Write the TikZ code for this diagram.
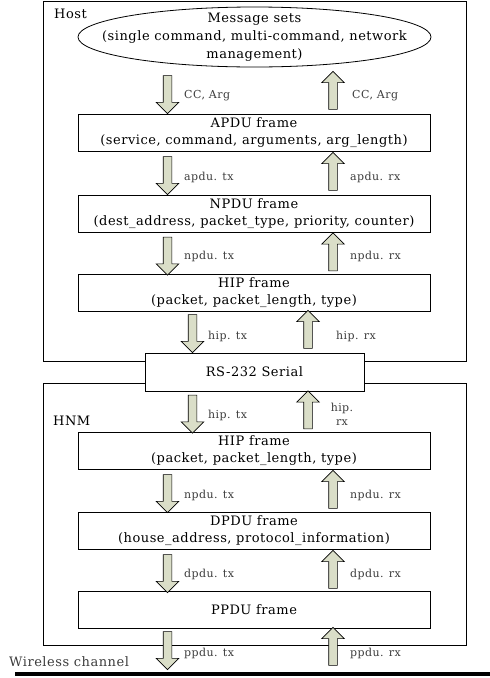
\documentclass[tikz,border=0pt]{standalone}
\usepackage{fontspec}
\setmainfont[LetterSpace=4]{DejaVu Serif}
\usetikzlibrary{shapes.arrows}
\definecolor{arrowfill}{RGB}{218,222,200}
\definecolor{labelgray}{RGB}{60,60,60}

\begin{document}
\begin{tikzpicture}[x=1pt, y=-1pt, every node/.style={font=\fontsize{13}{17}\selectfont}]
        \tikzstyle{container}=[draw, line width=0.8pt, anchor=north west, inner sep=0pt]
        \tikzstyle{frame}=[draw, fill=white, line width=0.8pt, minimum width=352pt, minimum height=37pt, inner sep=0pt, align=center]
        \tikzstyle{down}=[draw, single arrow, shape border rotate=270, fill=arrowfill, line width=0.6pt, inner sep=4pt, minimum height=38pt, single arrow head extend=7pt, single arrow tip angle=90]
        \tikzstyle{up}=[down, shape border rotate=90]
        \tikzstyle{label}=[anchor=west, inner sep=0pt, text=labelgray, font=\fontsize{11}{14}\selectfont]
        \useasboundingbox (0,0) rectangle (490,678);

        % host side
        \node [style=container, minimum width=423pt, minimum height=360pt] (host) at (43,1) {};
        \node [anchor=west, inner sep=0pt] (hostname) at (54,14) {Host};
        \node [inner sep=0pt, align=center, font=\fontsize{13}{18}\selectfont] (msg) at (254.5,37) {Message sets\\(single command, multi-command, network\\management)};
        \draw [line width=0.8pt] (msg.center) ellipse [x radius=176.5pt, y radius=30pt];
        \node [style=frame] (apdu) at (254,132.5) {APDU frame\\(service, command, arguments, arg\_length)};
        \node [style=frame] (npdu) at (254,214) {NPDU frame\\(dest\_address, packet\_type, priority, counter)};
        \node [style=frame] (hip) at (254,293) {HIP frame\\(packet, packet\_length, type)};

        % HNM side
        \node [style=container, minimum width=423pt, minimum height=262pt] (hnm) at (43,383) {};
        \node [anchor=west, inner sep=0pt] (hnmname) at (53,421) {HNM};
        \node [style=frame, minimum width=219pt, minimum height=38pt] (rs) at (254.5,372) {RS-232 Serial};
        \node [style=frame] (hipb) at (254,451) {HIP frame\\(packet, packet\_length, type)};
        \node [style=frame] (dpdu) at (254,531) {DPDU frame\\(house\_address, protocol\_information)};
        \node [style=frame] (ppdu) at (254,610) {PPDU frame};

        % channel
        \node [anchor=west, inner sep=0pt, text=labelgray] (chan) at (9,662) {Wireless channel};
        \coordinate (chanL) at (15,674);
        \coordinate (chanR) at (490,674);
        \draw [line width=4pt] (chanL) -- (chanR);

        % transmit / receive arrows
        \node [style=down] (t1) at (167.5,92.5) {};
        \node [style=up] (r1) at (333,92.5) {};
        \node [style=down] (t2) at (167.5,173.5) {};
        \node [style=up] (r2) at (333,173.5) {};
        \node [style=down] (t3) at (167.5,254) {};
        \node [style=up] (r3) at (333,254) {};
        \node [style=down] (t4) at (192.5,331.5) {};
        \node [style=up] (r4) at (308,331.5) {};
        \node [style=down] (t5) at (192.5,412) {};
        \node [style=up] (r5) at (308,412) {};
        \node [style=down] (t6) at (167.5,491.5) {};
        \node [style=up] (r6) at (333,491.5) {};
        \node [style=down] (t7) at (167.5,571.5) {};
        \node [style=up] (r7) at (333,571.5) {};
        \node [style=down] (t8) at (167.5,648.5) {};
        \node [style=up] (r8) at (333,648.5) {};

        \node [style=label] at (184,96) {CC, Arg};
        \node [style=label] at (352,96) {CC, Arg};
        \node [style=label] at (184,177) {apdu. tx};
        \node [style=label] at (350,177) {apdu. rx};
        \node [style=label] at (184,256) {npdu. tx};
        \node [style=label] at (350,256) {npdu. rx};
        \node [style=label] at (208,336) {hip. tx};
        \node [style=label] at (336,336) {hip. rx};
        \node [style=label] at (208,415) {hip. tx};
        \node [style=label, anchor=center, align=center] at (342,414) {hip.\\rx};
        \node [style=label] at (184,495) {npdu. tx};
        \node [style=label] at (350,495) {npdu. rx};
        \node [style=label] at (184,574) {dpdu. tx};
        \node [style=label] at (350,574) {dpdu. rx};
        \node [style=label] at (184,653) {ppdu. tx};
        \node [style=label] at (350,653) {ppdu. rx};
    \end{tikzpicture}
\end{document}
